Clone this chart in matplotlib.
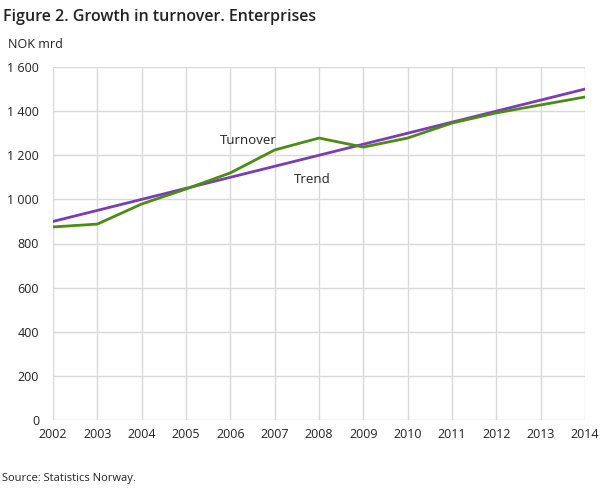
import matplotlib
matplotlib.use("Agg")
import matplotlib.pyplot as plt
from matplotlib.ticker import FuncFormatter

years = [2002, 2003, 2004, 2005, 2006, 2007, 2008, 2009, 2010, 2011, 2012, 2013, 2014]
turnover = [875, 888, 979, 1047, 1120, 1224, 1278, 1237, 1278, 1346, 1392, 1428, 1464]
trend = [900, 950, 1000, 1050, 1100, 1150, 1200, 1250, 1300, 1350, 1400, 1450, 1500]
yticks = [0, 200, 400, 600, 800, 1000, 1200, 1400, 1600]

plt.rcParams['font.family'] = ['Open Sans', 'DejaVu Sans']

fig = plt.figure(figsize=(6.09, 4.88), dpi=100)
ax = fig.add_axes([53/609, 1 - 420/488, (585-53)/609, (420-67)/488])

ax.plot(years, trend, color='#7b3db5', lw=2, zorder=3)
ax.plot(years, turnover, color='#4a8c14', lw=2, zorder=4)

ax.set_xlim(2002, 2014)
ax.set_ylim(0, 1600)
ax.set_xticks(years)
ax.set_yticks(yticks)
ax.yaxis.set_major_formatter(FuncFormatter(lambda v, p: f"{int(v):,}".replace(",", " ")))
ax.grid(True, color='#d9d9d9', lw=1)
ax.set_axisbelow(True)
for s in ax.spines.values():
    s.set_visible(False)
ax.tick_params(length=0, labelsize=9, colors='#222222')
ax.tick_params(axis='y', pad=10)
ax.tick_params(axis='x', pad=6)

ax.text(2006.4, 1269, 'Turnover', fontsize=9.5, ha='center', va='center', color='#222222')
ax.text(2007.85, 1088, 'Trend', fontsize=9.5, ha='center', va='center', color='#222222')

fig.text(3/609, 1 - 17/488, 'Figure 2. Growth in turnover. Enterprises', fontsize=11.5, fontweight='semibold', va='center', color='#222222')
fig.text(8/609, 1 - 45/488, 'NOK mrd', fontsize=9, va='center', color='#222222')
fig.text(2/609, 1 - 479/488, 'Source: Statistics Norway.', fontsize=8, va='center', color='#222222')

fig.savefig('out.png', dpi=100)
